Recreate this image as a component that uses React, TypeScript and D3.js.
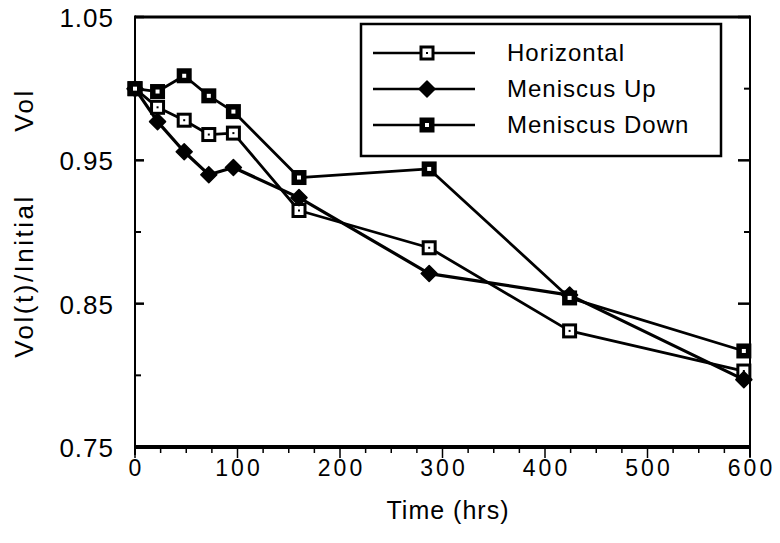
import React from "react";
import * as d3 from "d3";

const times = [0, 22, 48, 72, 96, 160, 287, 424, 594];
const horizontal = [1.0, 0.987, 0.978, 0.968, 0.969, 0.915, 0.889, 0.831, 0.803];
const meniscusUp = [1.0, 0.977, 0.956, 0.94, 0.945, 0.924, 0.871, 0.856, 0.797];
const meniscusDown = [1.0, 0.998, 1.009, 0.995, 0.984, 0.938, 0.944, 0.854, 0.817];

const xTickLabels = [0, 100, 200, 300, 400, 500, 600];
const yTickLabels = [1.05, 0.95, 0.85, 0.75];
const yMinorTicks = [1.0, 0.9, 0.8];
const seriesNames = ["Horizontal", "Meniscus Up", "Meniscus Down"];

const W = 780;
const H = 543;
const FONT = "'Liberation Sans', Arial, Helvetica, sans-serif";

function Marker({ kind, x, y }: { kind: string; x: number; y: number }) {
  if (kind === "Horizontal") {
    return (
      <g>
        <rect x={x - 6} y={y - 6} width={12} height={12} fill="#fff" stroke="#000" strokeWidth={3} />
        <rect x={x - 1} y={y - 1} width={2} height={2} fill="#000" />
      </g>
    );
  }
  if (kind === "Meniscus Up") {
    return <path d={`M${x},${y - 8} L${x + 8},${y} L${x},${y + 8} L${x - 8},${y} Z`} fill="#000" stroke="#000" strokeWidth={1.5} strokeLinejoin="round" />;
  }
  return (
    <g>
      <rect x={x - 7.5} y={y - 7.5} width={15} height={15} fill="#000" />
      <rect x={x - 2} y={y - 2} width={4} height={4} fill="#fff" />
    </g>
  );
}

export default function App() {
  const x = d3.scaleLinear().domain([0, 600]).range([135, 750]);
  const y = d3.scaleLinear().domain([0.75, 1.05]).range([447, 17]);
  const line = d3
    .line<[number, number]>()
    .x((d) => x(d[0]))
    .y((d) => y(d[1]));

  const series = [
    { name: "Horizontal", values: horizontal, width: 2.8 },
    { name: "Meniscus Up", values: meniscusUp, width: 3.2 },
    { name: "Meniscus Down", values: meniscusDown, width: 2.8 },
  ];

  const minorX = d3.range(0, 601, 25);

  return (
    <svg width={W} height={H} style={{ position: "absolute", left: 0, top: 0, background: "#fff" }} fontFamily={FONT}>
      <rect x={0} y={0} width={W} height={H} fill="#fff" />
      {/* frame */}
      <line x1={x(0)} x2={x(600)} y1={y(1.05)} y2={y(1.05)} stroke="#000" strokeWidth={3} />
      <line x1={x(0)} x2={x(0)} y1={y(1.05) - 1.5} y2={y(0.75) + 8} stroke="#000" strokeWidth={2} />
      <line x1={x(600)} x2={x(600)} y1={y(1.05) - 1.5} y2={y(0.75) + 10} stroke="#000" strokeWidth={2} />
      <line x1={x(0)} x2={x(600)} y1={y(0.75)} y2={y(0.75)} stroke="#000" strokeWidth={4} />

      {/* x ticks */}
      {minorX.map((t) => (
        <line key={"xt" + t} x1={x(t)} x2={x(t)} y1={y(0.75)} y2={y(0.75) + (t % 100 === 0 ? 11 : 6)} stroke="#000" strokeWidth={1.5} />
      ))}
      {xTickLabels.map((t) => (
        <text key={"xl" + t} x={x(t) + 1.5} y={476} textAnchor="middle" fontSize={23} letterSpacing={3}>
          {String(t)}
        </text>
      ))}

      {/* y ticks */}
      {yTickLabels.map((v) => (
        <g key={"yt" + v}>
          <line x1={x(0)} x2={x(0) + 9} y1={y(v)} y2={y(v)} stroke="#000" strokeWidth={2.5} />
          <line x1={x(600)} x2={x(600) - 12} y1={y(v)} y2={y(v)} stroke="#000" strokeWidth={2.5} />
          <text x={114} y={y(v) + 10} textAnchor="end" fontSize={26} letterSpacing={1}>
            {v.toFixed(2)}
          </text>
        </g>
      ))}
      {yMinorTicks.map((v) => (
        <g key={"ym" + v}>
          <line x1={x(0)} x2={x(0) + 6} y1={y(v)} y2={y(v)} stroke="#000" strokeWidth={2} />
          <line x1={x(600)} x2={x(600) - 6} y1={y(v)} y2={y(v)} stroke="#000" strokeWidth={2} />
        </g>
      ))}

      {/* axis titles */}
      <text x={448} y={519} textAnchor="middle" fontSize={25} letterSpacing={1}>
        Time (hrs)
      </text>
      <text transform="translate(33,276) rotate(-90)" textAnchor="middle" fontSize={26} letterSpacing={2.5}>
        Vol(t)/Initial
      </text>
      <text transform="translate(33,110) rotate(-90)" textAnchor="middle" fontSize={26} letterSpacing={2.5}>
        Vol
      </text>

      {/* series */}
      {series.map((s) => (
        <path
          key={s.name}
          d={line(times.map((t, i) => [t, s.values[i]] as [number, number])) || ""}
          fill="none"
          stroke="#000"
          strokeWidth={s.width}
          strokeLinejoin="round"
        />
      ))}
      {series.map((s) =>
        times.map((t, i) => <Marker key={s.name + i} kind={s.name} x={x(t)} y={y(s.values[i])} />)
      )}

      {/* legend */}
      <rect x={361} y={24} width={360} height={132} fill="#fff" stroke="#000" strokeWidth={2.5} />
      {seriesNames.map((n, i) => {
        const ly = 53 + i * 36;
        return (
          <g key={"lg" + n}>
            <line x1={373} x2={475} y1={ly} y2={ly} stroke="#000" strokeWidth={2.5} />
            <Marker kind={n} x={427} y={ly} />
            <text x={507} y={ly + 8} fontSize={24} letterSpacing={1}>
              {n}
            </text>
          </g>
        );
      })}
    </svg>
  );
}
